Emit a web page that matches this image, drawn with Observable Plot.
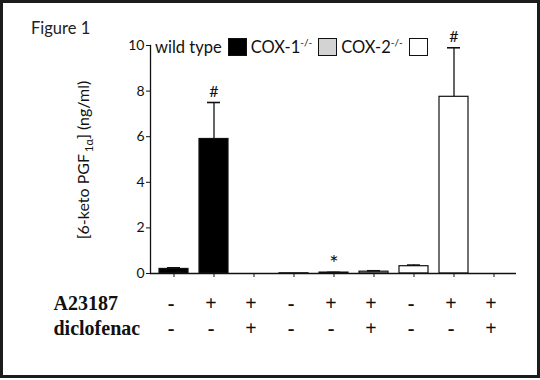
<!DOCTYPE html>
<html>
<head>
<meta charset="utf-8">
<script src="https://cdn.jsdelivr.net/npm/d3@7"></script>
<script src="https://cdn.jsdelivr.net/npm/@observablehq/plot@0.6"></script>
<style>
  body { margin: 0; background: #fff; }
  #wrap { position: relative; width: 540px; height: 380px; overflow: hidden; font-family: Lato, "Open Sans", sans-serif; }
  #border { position: absolute; left: 0; top: 0; width: 540px; height: 378px; box-sizing: border-box; border: 3px solid #1c1c1c; pointer-events: none; }
  #title { position: absolute; left: 31px; top: 18px; font-size: 16.5px; color: #222; }
  #legend { position: absolute; left: 155px; top: 36px; font-size: 16.5px; color: #111; display: flex; align-items: center; white-space: nowrap; }
  #legend .sw { display: inline-block; width: 19px; height: 18px; border: 1px solid #111; margin: 0 4px 0 6px; box-sizing: border-box; }
  #legend sup { font-size: 10px; vertical-align: 7px; }
  #chart { position: absolute; left: 0; top: 0; }
</style>
</head>
<body>
<div id="wrap">
  <div id="chart"></div>
  <div id="title">Figure 1</div>
  <div id="legend"></div>
  <div id="border"></div>
</div>
<script>
const ids = ["0","1","2","3","4","5","6","7","8"];
const genotypes = ["wild type","wild type","wild type","COX-1","COX-1","COX-1","COX-2","COX-2","COX-2"];
const a23187 = ["-","+","+","-","+","+","-","+","+"];
const diclofenac = ["-","-","+","-","-","+","-","-","+"];
const values = [0.2, 5.9, 0.0, 0.01, 0.04, 0.08, 0.32, 7.75, 0.0];
const errors = [0.05, 1.6, 0, 0, 0.01, 0.04, 0.05, 2.15, 0];
const annotations = ["", "#", "", "", "*", "", "", "#", ""];
const legendNames = ["wild type", "COX-1", "COX-2"];
const legendColors = ["#000000", "#d3d3d3", "#ffffff"];
const yTicks = [0, 2, 4, 6, 8, 10];

const colorOf = Object.fromEntries(legendNames.map((n, i) => [n, legendColors[i]]));
const rows = ids.map((id, i) => ({
  id, genotype: genotypes[i], value: values[i], err: errors[i],
  top: values[i] + errors[i], a: a23187[i], d: diclofenac[i], note: annotations[i]
}));
const serif = "'Liberation Serif', 'DejaVu Serif', serif";

const plot = Plot.plot({
  width: 540,
  height: 380,
  marginLeft: 150,
  marginRight: 24,
  marginTop: 45,
  marginBottom: 107,
  style: { fontFamily: "Lato, 'Open Sans', sans-serif", fontSize: "14px", color: "#111", background: "transparent" },
  x: { domain: ids, paddingInner: 0.28, paddingOuter: 0.215, axis: null },
  y: { domain: [0, 10], axis: null },
  marks: [
    Plot.barY(rows, { x: "id", y: "value", fill: d => colorOf[d.genotype], stroke: "#111", strokeWidth: 1.2 }),
    Plot.ruleX(rows.filter(d => d.err > 0), { x: "id", y1: "value", y2: "top", stroke: "#111", strokeWidth: 1.3 }),
    Plot.tickY(rows.filter(d => d.err > 0), { x: "id", y: "top", stroke: "#111", strokeWidth: 1.6, insetLeft: 8, insetRight: 8 }),
    Plot.text(rows.filter(d => d.note === "#"), { x: "id", y: "top", text: "note", dy: -11, fontSize: 16 }),
    Plot.text(rows.filter(d => d.note === "*"), { x: "id", y: "top", text: "note", dy: -8, fontSize: 22 }),
    Plot.axisY({ ticks: yTicks, tickSize: 4, tickPadding: 2, fontSize: 14, label: null, stroke: "#111" }),
    Plot.axisX({ tickSize: 4, tickFormat: () => "", label: null, stroke: "#111" }),
    Plot.frame({ anchor: "left", stroke: "#111", strokeWidth: 1.3 }),
    Plot.ruleY([0], { stroke: "#111", strokeWidth: 1.3 }),
    Plot.text(rows, { x: "id", text: "a", frameAnchor: "bottom", dx: -3, dy: 36, fontSize: 20, fontWeight: "bold", fontFamily: serif }),
    Plot.text(rows, { x: "id", text: "d", frameAnchor: "bottom", dx: -3, dy: 61, fontSize: 20, fontWeight: "bold", fontFamily: serif }),
    Plot.text(["A23187"], { frameAnchor: "bottom-left", dx: -97, dy: 36, textAnchor: "start", fontSize: 20, fontWeight: "bold", fontFamily: serif }),
    Plot.text(["diclofenac"], { frameAnchor: "bottom-left", dx: -97, dy: 61, textAnchor: "start", fontSize: 20, fontWeight: "bold", fontFamily: serif, letterSpacing: "-0.5px" })
  ]
});
document.getElementById("chart").appendChild(plot);

// y-axis label with subscript
const svg = d3.select(plot);
const lab = svg.append("text")
  .attr("transform", "translate(89,160) rotate(-90)")
  .attr("text-anchor", "middle")
  .attr("font-family", "Lato, 'Open Sans', sans-serif")
  .attr("font-size", 16)
  .attr("fill", "#111");
lab.append("tspan").text("[6-keto PGF");
lab.append("tspan").attr("font-size", 11).attr("dy", 4).attr("dx", 2).text("1α");
lab.append("tspan").attr("dy", -4).text("] (ng/ml)");

// legend
const leg = document.getElementById("legend");
legendNames.forEach((n, i) => {
  const t = document.createElement("span");
  t.innerHTML = n === "wild type" ? n : n + "<sup>-/-</sup>";
  leg.appendChild(t);
  const s = document.createElement("span");
  s.className = "sw";
  s.style.background = legendColors[i];
  leg.appendChild(s);
});
</script>
</body>
</html>
